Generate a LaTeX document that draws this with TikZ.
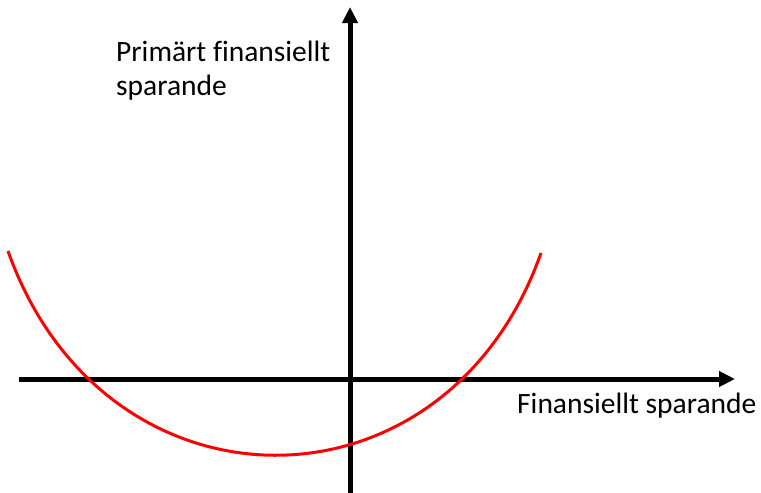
\documentclass[tikz,border=0pt]{standalone}
\usepackage{fontspec}
\setmainfont[Ligatures=NoCommon]{Carlito}
\usetikzlibrary{arrows.meta}

\begin{document}
\begin{tikzpicture}[x=1pt,y=-1pt,>={Triangle[length=16pt,width=15pt]}]
  \useasboundingbox (0,0) rectangle (761,493);

  % axes
  \coordinate (xstart) at (19,379);
  \coordinate (xend) at (735,379);
  \coordinate (ystart) at (350,493);
  \coordinate (yend) at (350,7);
  \draw[->,line width=5pt] (xstart) -- (xend);
  \draw[->,line width=5pt] (ystart) -- (yend);

  % labels
  \node[anchor=base west,inner sep=0pt,align=left,font=\fontsize{29.5}{34}\selectfont]
    (ylabel) at (116,95) {Primärt finansiellt\\sparande};
  \node[anchor=base west,inner sep=0pt,font=\fontsize{29.5}{34}\selectfont]
    (xlabel) at (517,413) {Finansiellt sparande};

  % curve
  \coordinate (cleft) at (8,251);
  \coordinate (cright) at (541,253);
  \draw[red,line width=3pt] (cleft) .. controls (104,522) and (445,524) .. (cright);
\end{tikzpicture}
\end{document}
